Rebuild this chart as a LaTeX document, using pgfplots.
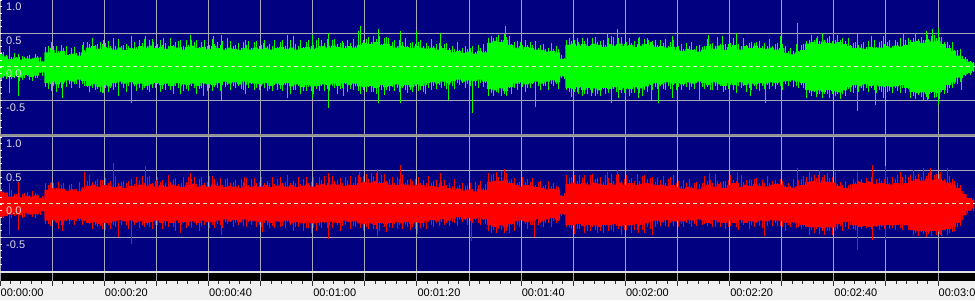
\documentclass[border=0pt]{standalone}
\usepackage{fontspec}
\setmainfont{Liberation Sans}
\usepackage{pgfplots}
\usepackage{pgfplotstable}
\pgfplotsset{compat=1.18}
\definecolor{navybg}{RGB}{0,0,128}
\definecolor{wgreen}{RGB}{0,255,0}
\definecolor{wred}{RGB}{255,0,0}
\definecolor{gridc}{RGB}{168,168,184}
\definecolor{zeroc}{RGB}{230,230,200}
\definecolor{labc}{RGB}{222,222,222}
\definecolor{sepc}{RGB}{144,144,144}
\definecolor{rulerbg}{RGB}{240,240,240}
\definecolor{lightline}{RGB}{225,225,225}

% green channel envelope core (time s, upper, lower)
\pgfplotstableread{
s t b
0 0.20 -0.16
1 0.16 -0.14
2 0.12 -0.15
3 0.14 -0.13
4 0.11 -0.16
5 0.13 -0.12
6 0.12 -0.15
7 0.14 -0.13
8 0.08 -0.08
9 0.22 -0.24
10 0.25 -0.22
11 0.21 -0.26
12 0.24 -0.23
13 0.18 -0.20
14 0.20 -0.22
15 0.17 -0.19
16 0.22 -0.21
17 0.29 -0.28
18 0.31 -0.26
19 0.27 -0.30
20 0.30 -0.27
21 0.28 -0.29
22 0.26 -0.24
23 0.29 -0.22
24 0.25 -0.25
25 0.28 -0.23
26 0.27 -0.26
27 0.31 -0.25
28 0.29 -0.28
29 0.32 -0.26
30 0.28 -0.24
31 0.30 -0.27
32 0.27 -0.25
33 0.31 -0.28
34 0.29 -0.24
35 0.26 -0.26
36 0.30 -0.27
37 0.32 -0.25
38 0.28 -0.28
39 0.30 -0.24
40 0.27 -0.26
41 0.31 -0.27
42 0.28 -0.24
43 0.26 -0.22
44 0.29 -0.25
45 0.27 -0.23
46 0.25 -0.26
47 0.28 -0.22
48 0.26 -0.24
49 0.29 -0.25
50 0.27 -0.26
51 0.29 -0.24
52 0.26 -0.28
53 0.28 -0.25
54 0.30 -0.27
55 0.27 -0.24
56 0.29 -0.29
57 0.26 -0.26
58 0.28 -0.30
59 0.30 -0.27
60 0.27 -0.29
61 0.29 -0.28
62 0.31 -0.26
63 0.29 -0.27
64 0.32 -0.25
65 0.30 -0.28
66 0.28 -0.24
67 0.31 -0.27
68 0.29 -0.25
69 0.33 -0.29
70 0.36 -0.30
71 0.34 -0.28
72 0.37 -0.31
73 0.33 -0.27
74 0.35 -0.30
75 0.31 -0.28
76 0.29 -0.26
77 0.32 -0.29
78 0.30 -0.27
79 0.28 -0.30
80 0.31 -0.26
81 0.29 -0.28
82 0.27 -0.24
83 0.29 -0.23
84 0.26 -0.25
85 0.28 -0.22
86 0.25 -0.24
87 0.22 -0.21
88 0.24 -0.19
89 0.21 -0.22
90 0.23 -0.20
91 0.20 -0.21
92 0.24 -0.19
93 0.22 -0.22
94 0.36 -0.33
95 0.39 -0.35
96 0.37 -0.32
97 0.40 -0.36
98 0.33 -0.30
99 0.29 -0.25
100 0.27 -0.23
101 0.30 -0.26
102 0.28 -0.24
103 0.26 -0.22
104 0.25 -0.25
105 0.23 -0.22
106 0.24 -0.20
107 0.22 -0.23
108 0.12 -0.14
109 0.33 -0.31
110 0.35 -0.33
111 0.32 -0.30
112 0.34 -0.34
113 0.31 -0.31
114 0.35 -0.32
115 0.33 -0.35
116 0.30 -0.31
117 0.34 -0.33
118 0.32 -0.30
119 0.35 -0.34
120 0.31 -0.31
121 0.33 -0.33
122 0.30 -0.30
123 0.32 -0.32
124 0.34 -0.29
125 0.33 -0.25
126 0.30 -0.24
127 0.31 -0.26
128 0.29 -0.23
129 0.30 -0.25
130 0.26 -0.24
131 0.24 -0.26
132 0.27 -0.23
133 0.25 -0.25
134 0.23 -0.22
135 0.26 -0.24
136 0.31 -0.27
137 0.27 -0.23
138 0.32 -0.26
139 0.25 -0.28
140 0.30 -0.24
141 0.33 -0.27
142 0.26 -0.23
143 0.31 -0.27
144 0.28 -0.25
145 0.32 -0.26
146 0.28 -0.24
147 0.27 -0.25
148 0.29 -0.23
149 0.26 -0.24
150 0.28 -0.22
151 0.21 -0.21
152 0.19 -0.20
153 0.22 -0.22
154 0.25 -0.24
155 0.35 -0.34
156 0.37 -0.36
157 0.34 -0.35
158 0.38 -0.37
159 0.36 -0.34
160 0.35 -0.36
161 0.37 -0.38
162 0.34 -0.35
163 0.31 -0.30
164 0.28 -0.27
165 0.29 -0.29
166 0.27 -0.26
167 0.30 -0.28
168 0.28 -0.27
169 0.29 -0.29
170 0.31 -0.28
171 0.29 -0.30
172 0.32 -0.29
173 0.30 -0.27
174 0.33 -0.31
175 0.37 -0.37
176 0.39 -0.39
177 0.36 -0.38
178 0.40 -0.40
179 0.38 -0.37
180 0.39 -0.39
181 0.34 -0.34
182 0.28 -0.27
183 0.24 -0.23
184 0.17 -0.16
185 0.12 -0.12
186 0.08 -0.09
187 0.06 -0.06
}\gbody

% fine texture of both channels every 0.5 s (green up/down, red up/down)
\pgfplotstableread{
s gu gd ru rd
0.25 0.23 -0.21 0.22 -0.20
0.75 0.22 -0.16 0.18 -0.21
1.25 0.18 -0.18 0.17 -0.16
1.75 0.17 -0.21 0.15 -0.18
2.25 0.15 -0.18 0.21 -0.21
2.75 0.21 -0.17 0.15 -0.18
3.25 0.15 -0.14 0.15 -0.17
3.75 0.15 -0.21 0.16 -0.14
4.25 0.16 -0.19 0.15 -0.21
4.75 0.15 -0.17 0.16 -0.19
5.25 0.16 -0.14 0.18 -0.17
5.75 0.18 -0.19 0.14 -0.14
6.25 0.14 -0.21 0.19 -0.19
6.75 0.19 -0.16 0.17 -0.21
7.25 0.17 -0.17 0.15 -0.16
7.75 0.15 -0.09 0.09 -0.17
8.25 0.09 -0.13 0.12 -0.09
8.75 0.30 -0.30 0.32 -0.30
9.25 0.32 -0.33 0.29 -0.30
9.75 0.29 -0.25 0.31 -0.33
10.25 0.31 -0.29 0.32 -0.25
10.75 0.32 -0.38 0.24 -0.29
11.25 0.24 -0.31 0.33 -0.38
11.75 0.33 -0.31 0.29 -0.31
12.25 0.29 -0.25 0.31 -0.31
12.75 0.31 -0.30 0.20 -0.25
13.25 0.20 -0.26 0.28 -0.30
13.75 0.28 -0.31 0.30 -0.26
14.25 0.30 -0.25 0.21 -0.31
14.75 0.21 -0.26 0.23 -0.25
15.25 0.23 -0.31 0.33 -0.26
15.75 0.33 -0.26 0.25 -0.31
16.25 0.25 -0.29 0.38 -0.26
16.75 0.38 -0.30 0.34 -0.29
17.25 0.34 -0.38 0.44 -0.30
17.75 0.44 -0.32 0.33 -0.38
18.25 0.33 -0.35 0.35 -0.32
18.75 0.35 -0.33 0.37 -0.35
19.25 0.37 -0.37 0.34 -0.33
19.75 0.34 -0.39 0.36 -0.37
20.25 0.36 -0.32 0.39 -0.39
20.75 0.39 -0.37 0.31 -0.32
21.25 0.31 -0.31 0.35 -0.37
21.75 0.35 -0.34 0.31 -0.31
22.25 0.31 -0.30 0.42 -0.34
22.75 0.42 -0.31 0.31 -0.30
23.25 0.31 -0.25 0.33 -0.31
23.75 0.33 -0.32 0.35 -0.25
24.25 0.35 -0.37 0.32 -0.32
24.75 0.32 -0.28 0.34 -0.37
25.25 0.34 -0.31 0.38 -0.28
25.75 0.38 -0.28 0.30 -0.31
26.25 0.30 -0.36 0.40 -0.28
26.75 0.40 -0.31 0.36 -0.36
27.25 0.36 -0.34 0.42 -0.31
27.75 0.42 -0.31 0.31 -0.34
28.25 0.31 -0.35 0.40 -0.31
28.75 0.40 -0.38 0.42 -0.35
29.25 0.42 -0.31 0.32 -0.38
29.75 0.32 -0.32 0.34 -0.31
30.25 0.34 -0.26 0.41 -0.32
30.75 0.41 -0.37 0.33 -0.26
31.25 0.33 -0.33 0.36 -0.37
31.75 0.36 -0.34 0.32 -0.33
32.25 0.32 -0.28 0.44 -0.34
32.75 0.44 -0.35 0.33 -0.28
33.25 0.33 -0.40 0.37 -0.35
33.75 0.37 -0.29 0.39 -0.40
34.25 0.39 -0.32 0.30 -0.29
34.75 0.30 -0.28 0.32 -0.32
35.25 0.32 -0.36 0.41 -0.28
35.75 0.41 -0.33 0.33 -0.36
36.25 0.33 -0.36 0.41 -0.33
36.75 0.41 -0.28 0.37 -0.36
37.25 0.37 -0.32 0.41 -0.28
37.75 0.41 -0.40 0.30 -0.32
38.25 0.30 -0.33 0.38 -0.40
38.75 0.38 -0.32 0.40 -0.33
39.25 0.40 -0.26 0.31 -0.32
39.75 0.31 -0.36 0.33 -0.26
40.25 0.33 -0.32 0.42 -0.36
40.75 0.42 -0.36 0.34 -0.32
41.25 0.34 -0.30 0.37 -0.36
41.75 0.37 -0.31 0.33 -0.30
42.25 0.33 -0.36 0.39 -0.31
42.75 0.39 -0.27 0.28 -0.36
43.25 0.28 -0.30 0.37 -0.27
43.75 0.37 -0.27 0.39 -0.30
44.25 0.39 -0.35 0.31 -0.27
44.75 0.31 -0.29 0.33 -0.35
45.25 0.33 -0.32 0.36 -0.29
45.75 0.36 -0.29 0.28 -0.32
46.25 0.28 -0.33 0.37 -0.29
46.75 0.37 -0.34 0.33 -0.33
47.25 0.33 -0.27 0.39 -0.34
47.75 0.39 -0.32 0.28 -0.27
48.25 0.28 -0.26 0.37 -0.32
48.75 0.37 -0.35 0.39 -0.26
49.25 0.39 -0.31 0.31 -0.35
49.75 0.31 -0.35 0.33 -0.31
50.25 0.33 -0.29 0.40 -0.35
50.75 0.40 -0.31 0.32 -0.29
51.25 0.32 -0.36 0.35 -0.31
51.75 0.35 -0.33 0.31 -0.36
52.25 0.31 -0.36 0.41 -0.33
52.75 0.41 -0.27 0.30 -0.36
53.25 0.30 -0.35 0.38 -0.27
53.75 0.38 -0.33 0.40 -0.35
54.25 0.40 -0.36 0.31 -0.33
54.75 0.31 -0.27 0.33 -0.36
55.25 0.33 -0.31 0.40 -0.27
55.75 0.40 -0.41 0.32 -0.31
56.25 0.32 -0.34 0.35 -0.41
56.75 0.35 -0.34 0.31 -0.34
57.25 0.31 -0.28 0.41 -0.34
57.75 0.41 -0.40 0.30 -0.28
58.25 0.30 -0.36 0.38 -0.40
58.75 0.38 -0.36 0.40 -0.36
59.25 0.40 -0.30 0.31 -0.36
59.75 0.31 -0.36 0.33 -0.30
60.25 0.33 -0.41 0.40 -0.36
60.75 0.40 -0.33 0.32 -0.41
61.25 0.32 -0.36 0.40 -0.33
61.75 0.40 -0.28 0.36 -0.36
62.25 0.36 -0.36 0.42 -0.28
62.75 0.42 -0.33 0.31 -0.36
63.25 0.31 -0.36 0.40 -0.33
63.75 0.40 -0.28 0.42 -0.36
64.25 0.42 -0.32 0.34 -0.28
64.75 0.34 -0.40 0.36 -0.32
65.25 0.36 -0.33 0.39 -0.40
65.75 0.39 -0.32 0.31 -0.33
66.25 0.31 -0.26 0.40 -0.32
66.75 0.40 -0.37 0.36 -0.26
67.25 0.36 -0.33 0.42 -0.37
67.75 0.42 -0.34 0.31 -0.33
68.25 0.31 -0.28 0.41 -0.34
68.75 0.41 -0.36 0.43 -0.28
69.25 0.43 -0.41 0.40 -0.36
69.75 0.40 -0.35 0.42 -0.41
70.25 0.42 -0.38 0.45 -0.35
70.75 0.45 -0.30 0.37 -0.38
71.25 0.37 -0.38 0.46 -0.30
71.75 0.46 -0.37 0.42 -0.38
72.25 0.42 -0.40 0.46 -0.37
72.75 0.46 -0.30 0.35 -0.40
73.25 0.35 -0.34 0.43 -0.30
73.75 0.43 -0.42 0.45 -0.34
74.25 0.45 -0.35 0.35 -0.42
74.75 0.35 -0.36 0.37 -0.35
75.25 0.37 -0.30 0.40 -0.36
75.75 0.40 -0.36 0.32 -0.30
76.25 0.32 -0.32 0.41 -0.36
76.75 0.41 -0.38 0.37 -0.32
77.25 0.37 -0.32 0.43 -0.38
77.75 0.43 -0.34 0.32 -0.32
78.25 0.32 -0.39 0.36 -0.34
78.75 0.36 -0.35 0.38 -0.39
79.25 0.38 -0.38 0.35 -0.35
79.75 0.35 -0.28 0.37 -0.38
80.25 0.37 -0.36 0.40 -0.28
80.75 0.40 -0.34 0.32 -0.36
81.25 0.32 -0.37 0.36 -0.34
81.75 0.36 -0.27 0.32 -0.37
82.25 0.32 -0.31 0.42 -0.27
82.75 0.42 -0.35 0.31 -0.31
83.25 0.31 -0.28 0.34 -0.35
83.75 0.34 -0.33 0.36 -0.28
84.25 0.36 -0.27 0.32 -0.33
84.75 0.32 -0.32 0.34 -0.27
85.25 0.34 -0.28 0.36 -0.32
85.75 0.36 -0.33 0.28 -0.28
86.25 0.28 -0.27 0.31 -0.33
86.75 0.31 -0.28 0.27 -0.27
87.25 0.27 -0.33 0.37 -0.28
87.75 0.37 -0.24 0.26 -0.33
88.25 0.26 -0.27 0.29 -0.24
88.75 0.29 -0.24 0.31 -0.27
89.25 0.31 -0.32 0.27 -0.24
89.75 0.27 -0.26 0.29 -0.32
90.25 0.29 -0.29 0.31 -0.26
90.75 0.31 -0.24 0.23 -0.29
91.25 0.23 -0.28 0.33 -0.24
91.75 0.33 -0.31 0.29 -0.28
92.25 0.29 -0.24 0.35 -0.31
92.75 0.35 -0.30 0.24 -0.24
93.25 0.24 -0.24 0.30 -0.30
93.75 0.44 -0.43 0.46 -0.40
94.25 0.46 -0.39 0.43 -0.43
94.75 0.43 -0.44 0.45 -0.39
95.25 0.45 -0.38 0.48 -0.44
95.75 0.48 -0.39 0.40 -0.38
96.25 0.40 -0.44 0.49 -0.39
96.75 0.49 -0.41 0.45 -0.44
97.25 0.45 -0.44 0.46 -0.41
97.75 0.46 -0.32 0.35 -0.44
98.25 0.35 -0.40 0.37 -0.32
98.75 0.37 -0.31 0.39 -0.40
99.25 0.39 -0.34 0.31 -0.31
99.75 0.31 -0.26 0.33 -0.34
100.25 0.33 -0.30 0.41 -0.26
100.75 0.41 -0.38 0.33 -0.30
101.25 0.33 -0.31 0.37 -0.38
101.75 0.37 -0.32 0.33 -0.31
102.25 0.33 -0.26 0.39 -0.32
102.75 0.39 -0.32 0.28 -0.26
103.25 0.28 -0.28 0.33 -0.32
103.75 0.33 -0.34 0.35 -0.28
104.25 0.35 -0.28 0.27 -0.34
104.75 0.27 -0.29 0.29 -0.28
105.25 0.29 -0.34 0.35 -0.29
105.75 0.35 -0.25 0.27 -0.34
106.25 0.27 -0.28 0.31 -0.25
106.75 0.31 -0.25 0.27 -0.28
107.25 0.27 -0.33 0.25 -0.25
107.75 0.18 -0.17 0.14 -0.18
108.25 0.14 -0.18 0.16 -0.17
108.75 0.41 -0.34 0.43 -0.34
109.25 0.43 -0.38 0.39 -0.34
109.75 0.39 -0.45 0.41 -0.38
110.25 0.41 -0.38 0.43 -0.45
110.75 0.43 -0.38 0.35 -0.38
111.25 0.35 -0.32 0.43 -0.38
111.75 0.43 -0.44 0.39 -0.32
112.25 0.39 -0.40 0.44 -0.44
112.75 0.44 -0.40 0.33 -0.40
113.25 0.33 -0.34 0.43 -0.40
113.75 0.43 -0.39 0.45 -0.34
114.25 0.45 -0.44 0.37 -0.39
114.75 0.37 -0.40 0.39 -0.44
115.25 0.39 -0.43 0.41 -0.40
115.75 0.41 -0.33 0.33 -0.43
116.25 0.33 -0.41 0.43 -0.33
116.75 0.43 -0.39 0.39 -0.41
117.25 0.39 -0.42 0.45 -0.39
117.75 0.45 -0.33 0.34 -0.42
118.25 0.34 -0.37 0.43 -0.33
118.75 0.43 -0.46 0.45 -0.37
119.25 0.45 -0.39 0.35 -0.46
119.75 0.35 -0.39 0.37 -0.39
120.25 0.37 -0.33 0.44 -0.39
120.75 0.44 -0.43 0.36 -0.33
121.25 0.36 -0.39 0.39 -0.43
121.75 0.39 -0.39 0.35 -0.39
122.25 0.35 -0.33 0.45 -0.39
122.75 0.45 -0.39 0.34 -0.33
123.25 0.34 -0.44 0.42 -0.39
123.75 0.42 -0.34 0.44 -0.44
124.25 0.44 -0.37 0.37 -0.34
124.75 0.37 -0.27 0.39 -0.37
125.25 0.39 -0.35 0.41 -0.27
125.75 0.41 -0.30 0.33 -0.35
126.25 0.33 -0.33 0.40 -0.30
126.75 0.40 -0.29 0.36 -0.33
127.25 0.36 -0.33 0.42 -0.29
127.75 0.42 -0.35 0.31 -0.33
128.25 0.31 -0.28 0.38 -0.35
128.75 0.38 -0.33 0.40 -0.28
129.25 0.40 -0.27 0.30 -0.33
129.75 0.30 -0.34 0.32 -0.27
130.25 0.32 -0.30 0.35 -0.34
130.75 0.35 -0.35 0.27 -0.30
131.25 0.27 -0.29 0.36 -0.35
131.75 0.36 -0.30 0.32 -0.29
132.25 0.32 -0.35 0.38 -0.30
132.75 0.38 -0.30 0.27 -0.35
133.25 0.27 -0.33 0.31 -0.30
133.75 0.31 -0.24 0.33 -0.33
134.25 0.33 -0.32 0.30 -0.24
134.75 0.30 -0.30 0.32 -0.32
135.25 0.32 -0.33 0.42 -0.30
135.75 0.42 -0.30 0.34 -0.33
136.25 0.34 -0.34 0.36 -0.30
136.75 0.36 -0.35 0.32 -0.34
137.25 0.32 -0.28 0.45 -0.35
137.75 0.45 -0.34 0.34 -0.28
138.25 0.34 -0.28 0.33 -0.34
138.75 0.33 -0.38 0.35 -0.28
139.25 0.35 -0.34 0.34 -0.38
139.75 0.34 -0.33 0.36 -0.34
140.25 0.36 -0.27 0.44 -0.33
140.75 0.44 -0.34 0.36 -0.27
141.25 0.36 -0.39 0.35 -0.34
141.75 0.35 -0.28 0.31 -0.39
142.25 0.31 -0.31 0.44 -0.28
142.75 0.44 -0.29 0.33 -0.31
143.25 0.33 -0.37 0.36 -0.29
143.75 0.36 -0.31 0.38 -0.37
144.25 0.38 -0.34 0.36 -0.31
144.75 0.36 -0.29 0.38 -0.34
145.25 0.38 -0.33 0.39 -0.29
145.75 0.39 -0.36 0.31 -0.33
146.25 0.31 -0.29 0.36 -0.36
146.75 0.36 -0.33 0.32 -0.29
147.25 0.32 -0.27 0.42 -0.33
147.75 0.42 -0.33 0.31 -0.27
148.25 0.31 -0.29 0.34 -0.33
148.75 0.34 -0.33 0.36 -0.29
149.25 0.36 -0.27 0.32 -0.33
149.75 0.32 -0.29 0.37 -0.33
150.25 0.34 -0.34 0.35 -0.35
150.75 0.32 -0.26 0.27 -0.40
151.25 0.24 -0.29 0.31 -0.32
151.75 0.28 -0.22 0.27 -0.35
152.25 0.24 -0.30 0.38 -0.28
152.75 0.35 -0.28 0.27 -0.36
153.25 0.24 -0.31 0.36 -0.34
153.75 0.33 -0.27 0.38 -0.37
154.25 0.35 -0.31 0.42 -0.33
154.75 0.39 -0.46 0.41 -0.31
155.25 0.41 -0.39 0.48 -0.46
155.75 0.48 -0.44 0.40 -0.39
156.25 0.40 -0.38 0.43 -0.44
156.75 0.43 -0.45 0.39 -0.38
157.25 0.39 -0.41 0.51 -0.45
157.75 0.51 -0.46 0.40 -0.41
158.25 0.40 -0.40 0.44 -0.46
158.75 0.44 -0.41 0.46 -0.40
159.25 0.46 -0.46 0.39 -0.41
159.75 0.39 -0.41 0.41 -0.46
160.25 0.41 -0.44 0.48 -0.41
160.75 0.48 -0.40 0.30 -0.37
161.25 0.40 -0.48 0.33 -0.33
161.75 0.43 -0.41 0.29 -0.41
162.25 0.39 -0.44 0.34 -0.34
162.75 0.44 -0.33 0.29 -0.37
163.25 0.33 -0.37 0.30 -0.31
163.75 0.36 -0.39 0.38 -0.37
164.25 0.38 -0.32 0.33 -0.39
164.75 0.33 -0.37 0.35 -0.32
165.25 0.35 -0.31 0.38 -0.37
165.75 0.38 -0.36 0.30 -0.31
166.25 0.30 -0.32 0.39 -0.36
166.75 0.39 -0.37 0.35 -0.32
167.25 0.35 -0.31 0.41 -0.37
167.75 0.41 -0.34 0.30 -0.31
168.25 0.30 -0.39 0.37 -0.34
168.75 0.37 -0.34 0.39 -0.39
169.25 0.39 -0.37 0.35 -0.34
169.75 0.35 -0.30 0.37 -0.37
170.25 0.37 -0.38 0.40 -0.30
170.75 0.40 -0.36 0.32 -0.38
171.25 0.32 -0.39 0.41 -0.36
171.75 0.41 -0.32 0.37 -0.39
172.25 0.37 -0.36 0.43 -0.32
172.75 0.43 -0.39 0.32 -0.36
173.25 0.32 -0.32 0.41 -0.39
173.75 0.41 -0.39 0.43 -0.32
174.25 0.43 -0.33 0.41 -0.39
174.75 0.41 -0.47 0.43 -0.33
175.25 0.43 -0.43 0.50 -0.47
175.75 0.50 -0.48 0.42 -0.43
176.25 0.42 -0.42 0.45 -0.48
176.75 0.45 -0.45 0.41 -0.42
177.25 0.41 -0.50 0.53 -0.45
177.75 0.53 -0.45 0.42 -0.50
178.25 0.42 -0.48 0.46 -0.45
178.75 0.46 -0.39 0.48 -0.48
179.25 0.48 -0.47 0.43 -0.39
179.75 0.43 -0.45 0.45 -0.47
180.25 0.45 -0.48 0.45 -0.45
180.75 0.45 -0.37 0.37 -0.48
181.25 0.37 -0.41 0.37 -0.37
181.75 0.37 -0.39 0.38 -0.45
182.25 0.33 -0.32 0.42 -0.44
182.75 0.37 -0.31 0.38 -0.42
183.25 0.26 -0.25 0.34 -0.41
183.75 0.25 -0.26 0.32 -0.35
184.25 0.27 -0.22 0.28 -0.33
184.75 0.16 -0.17 0.20 -0.24
185.25 0.15 -0.14 0.12 -0.17
185.75 0.12 -0.11 0.09 -0.14
186.25 0.09 -0.12 0.08 -0.11
186.75 0.08 -0.08 0.07 -0.10
}\grass

% green channel peaks (time s, value)
\pgfplotstableread{
s v
1.9 0.31
1.9 -0.39
3.5 0.20
3.5 -0.44
9.9 0.38
9.9 -0.36
11.9 -0.46
13.8 0.28
16.0 0.38
19.9 0.41
19.9 -0.39
21.8 0.43
22.8 -0.44
25.3 0.46
25.3 -0.54
27.9 0.46
29.5 0.38
31.4 0.43
34.6 0.41
34.6 -0.41
36.5 0.48
39.1 -0.44
41.0 0.46
42.6 0.48
42.6 -0.50
43.6 0.43
47.1 0.41
47.1 -0.41
50.6 0.36
55.1 0.48
55.1 -0.46
56.4 0.46
59.9 0.48
59.9 -0.46
61.2 0.43
63.0 0.51
63.0 -0.61
65.9 0.36
65.9 -0.44
68.8 0.53
69.1 0.61
72.6 0.56
72.6 -0.54
74.6 0.43
76.8 0.53
76.8 -0.54
80.0 0.53
81.6 -0.41
84.5 0.51
86.1 -0.49
90.6 -0.69
94.4 0.43
97.0 0.61
99.8 0.38
102.7 -0.59
105.9 0.36
111.0 0.38
111.0 -0.41
113.6 -0.44
116.5 0.51
117.4 0.46
117.4 -0.54
118.4 0.56
120.0 -0.44
122.5 0.43
122.5 -0.46
124.5 0.41
125.1 0.38
125.1 -0.49
126.4 -0.54
129.0 0.46
129.0 -0.46
134.3 -0.51
136.0 0.48
138.6 0.46
141.4 0.51
144.0 -0.44
146.9 -0.54
149.8 0.46
153.0 0.66
156.8 0.46
156.8 -0.41
160.0 0.51
164.5 0.51
164.5 -0.66
167.3 0.46
168.0 -0.56
169.6 0.46
169.6 -0.46
173.4 0.51
177.9 0.48
177.9 -0.51
179.0 0.56
180.1 0.58
180.1 -0.56
184.6 -0.34
}\gpeak

% red channel envelope core (time s, upper, lower)
\pgfplotstableread{
s t b
0 0.19 -0.21
1 0.17 -0.18
2 0.11 -0.16
3 0.12 -0.15
4 0.10 -0.17
5 0.12 -0.14
6 0.11 -0.16
7 0.13 -0.15
8 0.08 -0.11
9 0.21 -0.25
10 0.24 -0.24
11 0.22 -0.27
12 0.23 -0.25
13 0.20 -0.23
14 0.22 -0.24
15 0.19 -0.22
16 0.23 -0.24
17 0.27 -0.28
18 0.29 -0.27
19 0.26 -0.30
20 0.28 -0.28
21 0.27 -0.29
22 0.25 -0.26
23 0.27 -0.24
24 0.24 -0.26
25 0.27 -0.25
26 0.26 -0.27
27 0.29 -0.26
28 0.27 -0.28
29 0.30 -0.27
30 0.26 -0.25
31 0.28 -0.28
32 0.26 -0.26
33 0.29 -0.28
34 0.27 -0.25
35 0.25 -0.27
36 0.28 -0.27
37 0.30 -0.26
38 0.26 -0.28
39 0.28 -0.25
40 0.26 -0.27
41 0.29 -0.27
42 0.27 -0.25
43 0.25 -0.23
44 0.27 -0.26
45 0.26 -0.24
46 0.24 -0.27
47 0.27 -0.23
48 0.25 -0.25
49 0.27 -0.26
50 0.26 -0.27
51 0.28 -0.25
52 0.25 -0.28
53 0.27 -0.26
54 0.29 -0.27
55 0.26 -0.25
56 0.28 -0.29
57 0.25 -0.27
58 0.27 -0.29
59 0.29 -0.27
60 0.26 -0.29
61 0.28 -0.28
62 0.30 -0.27
63 0.28 -0.27
64 0.30 -0.26
65 0.29 -0.28
66 0.27 -0.25
67 0.29 -0.27
68 0.28 -0.26
69 0.31 -0.29
70 0.33 -0.30
71 0.32 -0.29
72 0.34 -0.31
73 0.31 -0.28
74 0.33 -0.30
75 0.29 -0.28
76 0.28 -0.27
77 0.30 -0.29
78 0.29 -0.27
79 0.27 -0.30
80 0.29 -0.27
81 0.28 -0.28
82 0.26 -0.25
83 0.27 -0.24
84 0.25 -0.26
85 0.27 -0.23
86 0.24 -0.25
87 0.21 -0.22
88 0.23 -0.20
89 0.20 -0.23
90 0.22 -0.21
91 0.19 -0.22
92 0.23 -0.20
93 0.21 -0.23
94 0.33 -0.32
95 0.35 -0.34
96 0.34 -0.32
97 0.36 -0.35
98 0.31 -0.30
99 0.28 -0.26
100 0.26 -0.24
101 0.28 -0.27
102 0.27 -0.25
103 0.25 -0.23
104 0.24 -0.26
105 0.22 -0.23
106 0.23 -0.21
107 0.21 -0.24
108 0.12 -0.15
109 0.30 -0.31
110 0.32 -0.32
111 0.30 -0.30
112 0.31 -0.33
113 0.29 -0.31
114 0.32 -0.32
115 0.30 -0.34
116 0.28 -0.31
117 0.31 -0.32
118 0.29 -0.30
119 0.32 -0.33
120 0.29 -0.31
121 0.31 -0.32
122 0.28 -0.30
123 0.30 -0.31
124 0.31 -0.29
125 0.30 -0.26
126 0.28 -0.25
127 0.29 -0.27
128 0.27 -0.24
129 0.28 -0.26
130 0.25 -0.25
131 0.23 -0.26
132 0.25 -0.24
133 0.24 -0.25
134 0.22 -0.23
135 0.25 -0.25
136 0.29 -0.28
137 0.26 -0.24
138 0.30 -0.27
139 0.24 -0.28
140 0.28 -0.25
141 0.31 -0.28
142 0.25 -0.24
143 0.29 -0.28
144 0.27 -0.26
145 0.30 -0.27
146 0.27 -0.25
147 0.26 -0.26
148 0.28 -0.24
149 0.30 -0.25
150 0.29 -0.26
151 0.25 -0.28
152 0.24 -0.27
153 0.26 -0.29
154 0.28 -0.31
155 0.33 -0.34
156 0.34 -0.35
157 0.32 -0.34
158 0.35 -0.36
159 0.33 -0.35
160 0.32 -0.35
161 0.27 -0.30
162 0.24 -0.27
163 0.23 -0.26
164 0.30 -0.32
165 0.33 -0.34
166 0.31 -0.33
167 0.33 -0.34
168 0.30 -0.33
169 0.31 -0.32
170 0.30 -0.31
171 0.29 -0.32
172 0.31 -0.31
173 0.29 -0.30
174 0.31 -0.32
175 0.35 -0.39
176 0.37 -0.41
177 0.35 -0.40
178 0.38 -0.42
179 0.36 -0.40
180 0.37 -0.41
181 0.35 -0.39
182 0.32 -0.37
183 0.29 -0.34
184 0.24 -0.28
185 0.15 -0.17
186 0.09 -0.10
187 0.06 -0.07
}\rbody

% red channel peaks (time s, value)
\pgfplotstableread{
s v
1.8 0.31
1.8 -0.46
3.5 0.33
3.5 -0.39
9.9 0.33
11.9 -0.41
16.3 0.48
19.2 0.36
21.8 0.61
22.8 -0.49
25.3 -0.59
27.9 0.56
30.1 0.36
34.6 -0.44
36.5 0.46
40.8 0.42
42.5 -0.46
46.9 0.40
50.4 -0.42
55.2 0.44
59.8 -0.44
63.1 0.46
63.1 -0.52
68.9 0.48
72.5 0.52
72.5 -0.48
76.9 0.58
80.2 -0.45
84.6 0.47
90.5 -0.55
96.8 0.52
102.6 -0.50
111.2 0.40
116.6 0.48
118.5 0.50
122.6 -0.44
125.3 -0.46
129.2 0.44
136.1 0.46
141.5 0.48
146.8 -0.48
153.0 0.53
157.0 0.44
160.3 0.46
164.5 0.48
164.5 -0.69
167.4 0.58
167.4 -0.54
169.9 0.56
169.9 -0.54
172.8 0.48
178.6 0.53
180.5 0.48
180.5 -0.46
181.9 0.53
181.9 -0.46
}\rpeak

\pgfplotsset{
  common/.style={
    scale only axis, width=975pt, height=134pt,
    xmin=0, xmax=187.1, ymin=-1, ymax=1,
    axis line style={draw=none},
  },
  panel/.style={
    common,
    axis background/.style={fill=navybg},
    xtick={0,10,...,180}, xticklabels={},
    ytick={-0.5,0,0.5,1}, yticklabels={},
    tick style={draw=none},
    xmajorgrids, ymajorgrids,
    major grid style={gridc, line width=1pt},
  },
  labels/.style={
    common,
    xtick=\empty,
    ytick={-0.5,0,0.5,1}, yticklabels={-0.5,0.0,0.5,1.0},
    minor ytick={-0.9,-0.8,...,0.95},
    ytick pos=left, tick align=inside,
    major tick length=2pt, minor tick length=2pt,
    y tick style={draw=white, line width=0.8pt},
    yticklabel style={anchor=north west, inner sep=0pt, xshift=6pt, yshift=-3pt,
      text=labc, font=\fontsize{11}{13}\selectfont},
  },
  body/.style={draw=none, const plot mark mid, forget plot},
  peaks/.style={ycomb, line width=1pt, mark=none, forget plot},
  zeroline/.style={zeroc, line width=1pt, dash pattern=on 4pt off 3pt, forget plot},
}

\begin{document}
\begin{tikzpicture}[x=1pt,y=1pt]
\fill[rulerbg] (0,0) rectangle (975,19);
\fill[lightline] (0,27) rectangle (975,29);
\fill[sepc] (0,163) rectangle (975,166);

% top channel
\begin{axis}[panel, at={(0pt,166pt)}, anchor=south west]
\addplot[body, fill=wgreen] table[x=s, y=t] {\gbody} \closedcycle;
\addplot[body, fill=wgreen] table[x=s, y=b] {\gbody} \closedcycle;
\addplot[peaks, wgreen] table[x=s, y=gu] {\grass};
\addplot[peaks, wgreen] table[x=s, y=gd] {\grass};
\addplot[peaks, wgreen] table[x=s, y=v] {\gpeak};
\addplot[zeroline] coordinates {(0,0) (187.1,0)};
\end{axis}
\begin{axis}[labels, at={(0pt,166pt)}, anchor=south west]
\addplot[draw=none, forget plot] coordinates {(0,0) (187.1,0)};
\end{axis}

% bottom channel
\begin{axis}[panel, at={(0pt,29pt)}, anchor=south west]
\addplot[body, fill=wred] table[x=s, y=t] {\rbody} \closedcycle;
\addplot[body, fill=wred] table[x=s, y=b] {\rbody} \closedcycle;
\addplot[peaks, wred] table[x=s, y=ru] {\grass};
\addplot[peaks, wred] table[x=s, y=rd] {\grass};
\addplot[peaks, wred] table[x=s, y=v] {\rpeak};
\addplot[zeroline] coordinates {(0,0) (187.1,0)};
\end{axis}
\begin{axis}[labels, at={(0pt,29pt)}, anchor=south west]
\addplot[draw=none, forget plot] coordinates {(0,0) (187.1,0)};
\end{axis}

% time ruler
\begin{axis}[
  scale only axis, width=975pt, height=8pt,
  at={(0pt,19pt)}, anchor=south west,
  xmin=0, xmax=187.1, ymin=0, ymax=1,
  axis background/.style={fill=black},
  axis line style={draw=none},
  ytick=\empty,
  xtick={0,10,...,180},
  xticklabels={00:00:00,,00:00:20,,00:00:40,,00:01:00,,00:01:20,,00:01:40,,00:02:00,,00:02:20,,00:02:40,,00:03:00},
  minor x tick num=4,
  xtick pos=left, tick align=outside,
  major tick length=5pt, minor tick length=3pt,
  x tick style={draw=black!80, line width=0.8pt},
  xmajorgrids, major grid style={gridc, line width=1pt},
  xticklabel style={anchor=north west, inner sep=0pt, xshift=0.5pt, yshift=-3pt,
    text=black, font=\fontsize{11}{13}\selectfont},
]
\addplot[draw=none, forget plot] coordinates {(0,0.5) (187.1,0.5)};
\end{axis}
\pgfresetboundingbox
\path (0,0) rectangle (975,300);
\end{tikzpicture}
\end{document}
